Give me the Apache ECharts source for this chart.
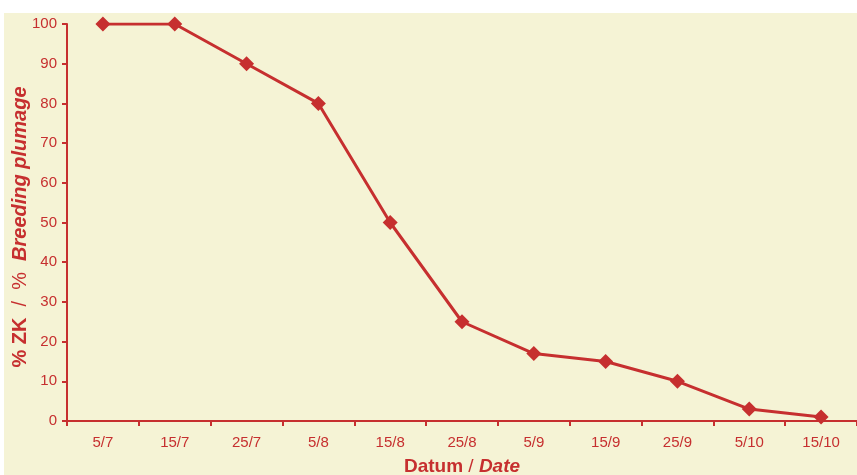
<!DOCTYPE html>
<html><head><meta charset="utf-8">
<script src="https://cdn.jsdelivr.net/npm/echarts@6/dist/echarts.min.js"></script>
<style>html,body{margin:0;padding:0;background:#fff}#c{width:857px;height:475px}</style>
</head><body><div id="c"></div>
<script>
var categories = ['5/7','15/7','25/7','5/8','15/8','25/8','5/9','15/9','25/9','5/10','15/10'];
var values = [100,100,90,80,50,25,17,15,10,3,1];
var yTicks = [0,10,20,30,40,50,60,70,80,90,100];
var red = '#c62f2f';
var font = 'Liberation Sans, Arial';
var titleRich = {
  a:{fill:red,fontSize:20,fontWeight:'bold',fontFamily:font},
  c:{fill:red,fontSize:20,fontFamily:font},
  b:{fill:red,fontSize:20,fontWeight:'bold',fontStyle:'italic',fontFamily:font}
};
var chart = echarts.init(document.getElementById('c'));
chart.setOption({
  animation:false,
  graphic:[
    {type:'rect',z:-10,shape:{x:4,y:13,width:853,height:462},style:{fill:'#f5f3d5'}},
    {type:'text',x:20,y:227,rotation:Math.PI/2,z:10,
      style:{text:'{a|% ZK  }{c|/  %  }{b|Breeding plumage}',align:'center',verticalAlign:'middle',rich:titleRich}}
  ],
  grid:{left:67,top:24,right:0,bottom:54,outerBoundsMode:'none',containLabel:false},
  xAxis:{type:'category',data:categories,boundaryGap:true,
    axisLine:{lineStyle:{color:red,width:2}},
    axisTick:{show:true,lineStyle:{color:red,width:2},length:5},
    axisLabel:{color:red,fontSize:15,fontFamily:font,margin:14},
    name:'{a|Datum }{c|/ }{b|Date}',nameLocation:'middle',nameGap:36,
    nameTextStyle:{rich:{
      a:{color:red,fontSize:19,fontWeight:'bold',fontFamily:font},
      c:{color:red,fontSize:19,fontFamily:font},
      b:{color:red,fontSize:19,fontWeight:'bold',fontStyle:'italic',fontFamily:font}}}
  },
  yAxis:{type:'value',min:0,max:100,interval:10,
    axisLine:{show:true,lineStyle:{color:red,width:2}},
    axisTick:{show:true,lineStyle:{color:red,width:2},length:5},
    splitLine:{show:false},
    axisLabel:{color:red,fontSize:15,fontFamily:font,margin:10,
      formatter:function(v){return yTicks.indexOf(v)>=0?String(v):'';}}
  },
  series:[{type:'line',data:values,symbol:'diamond',symbolSize:15,
    lineStyle:{color:red,width:3},itemStyle:{color:red}}]
});
</script></body></html>
